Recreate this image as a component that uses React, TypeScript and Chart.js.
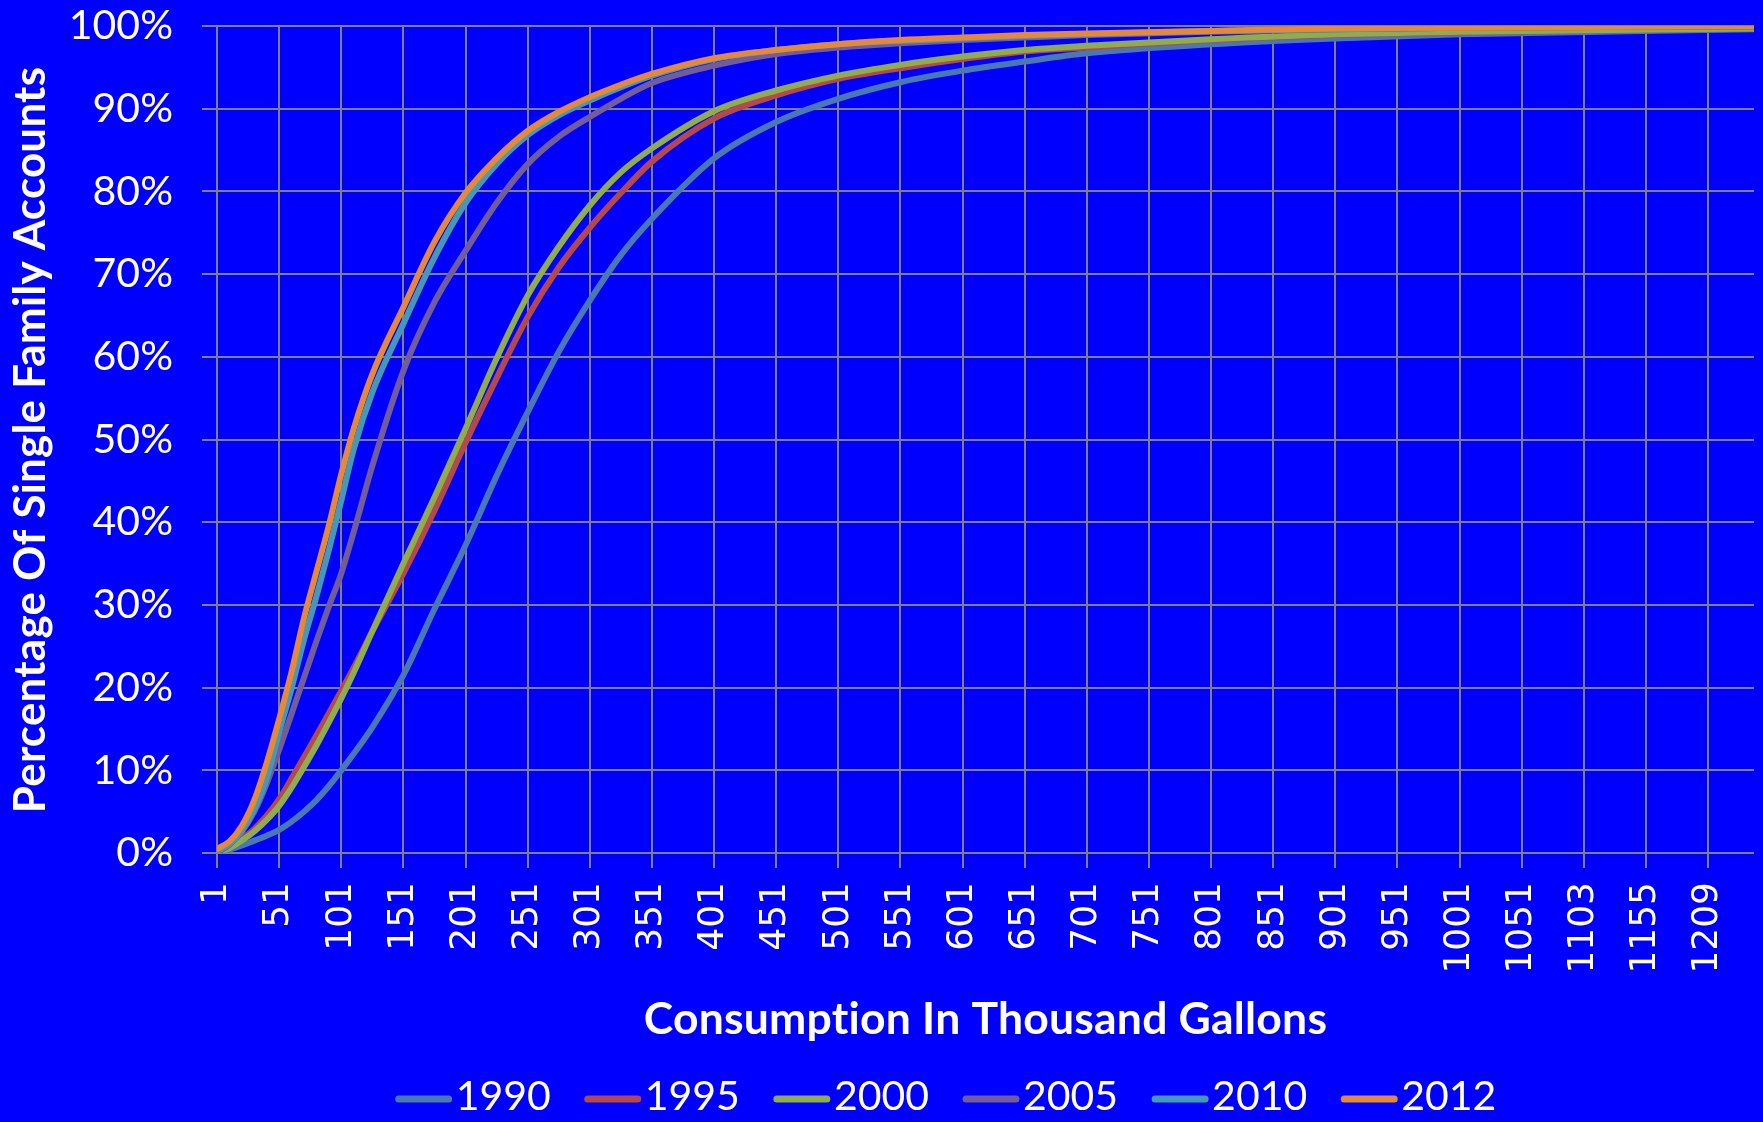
import { useEffect, useRef } from "react";
import { Chart, registerables } from "chart.js";

Chart.register(...registerables);

// Category positions (0-based index along the category axis) at which values were read
const categoryPositions = [0, 10, 20, 30, 40, 50, 60, 70, 80, 90, 100, 110, 125, 150, 175, 200, 225, 250, 275, 300, 325, 350, 400, 450, 500, 550, 600, 650, 700, 800, 900, 1000, 1237];

// Category axis labels (one every 50 categories)
const tickLabels = ["1", "51", "101", "151", "201", "251", "301", "351", "401", "451", "501", "551", "601", "651", "701", "751", "801", "851", "901", "951", "1001", "1051", "1103", "1155", "1209"];
const TICK_EVERY = 50;
const X_MAX = 1237;

const seriesNames = ["1990", "1995", "2000", "2005", "2010", "2012"];
const seriesColors = ["#4A78B3", "#B5484A", "#8FAD4C", "#735C9A", "#4499B8", "#E4883A"];

const v1990 = [0, 0.4, 0.9, 1.5, 2.1, 2.8, 3.8, 5.0, 6.4, 8.1, 10.0, 12.0, 15.2, 21.5, 29.5, 37.2, 45.6, 53.3, 60.6, 66.8, 72.3, 76.7, 84.0, 88.4, 91.2, 93.2, 94.6, 95.7, 96.7, 97.8, 98.5, 99.0, 99.6];
const v1995 = [0, 0.7, 1.7, 2.9, 4.5, 6.5, 9.0, 11.6, 14.2, 16.9, 19.6, 22.4, 26.8, 33.8, 41.4, 49.6, 57.4, 64.8, 70.8, 75.6, 79.8, 83.6, 88.8, 91.6, 93.6, 94.9, 96.0, 96.9, 97.4, 98.3, 98.9, 99.2, 99.7];
const v2000 = [0, 0.6, 1.5, 2.6, 4.0, 5.7, 7.9, 10.4, 13.0, 15.8, 18.7, 21.8, 26.8, 35.0, 43.0, 51.3, 59.8, 67.4, 73.3, 78.3, 82.3, 85.2, 89.7, 92.2, 94.0, 95.3, 96.3, 97.1, 97.6, 98.4, 99.0, 99.3, 99.7];
const v2005 = [0, 1.0, 2.6, 5.0, 8.4, 12.5, 16.8, 21.2, 25.6, 29.8, 33.8, 38.8, 46.8, 58.3, 66.6, 72.8, 78.6, 83.3, 86.6, 89.0, 91.2, 93.1, 95.2, 96.6, 97.4, 97.9, 98.3, 98.6, 98.9, 99.3, 99.6, 99.8, 99.95];
const v2010 = [0.2, 1.1, 2.7, 5.3, 9.0, 14.6, 19.9, 25.8, 31.0, 36.6, 42.6, 48.8, 55.7, 64.0, 72.0, 78.6, 83.3, 86.8, 89.2, 91.0, 92.6, 94.0, 96.0, 97.1, 97.8, 98.2, 98.5, 98.8, 99.0, 99.4, 99.6, 99.8, 100];
const v2012 = [0.5, 1.4, 3.3, 6.4, 10.9, 16.2, 21.9, 28.4, 34.0, 39.6, 45.8, 51.3, 57.9, 66.0, 73.9, 79.8, 84.0, 87.3, 89.6, 91.4, 92.9, 94.2, 96.1, 97.1, 97.8, 98.3, 98.6, 98.9, 99.1, 99.4, 99.7, 99.8, 100];

const seriesValues = [v1990, v1995, v2000, v2005, v2010, v2012];

const X_TITLE = "Consumption In Thousand Gallons";
const Y_TITLE = "Percentage Of Single Family Accounts";

const BG = "#0000FF";
const GRID = "#808080";
const TEXT_FONT = "Lato";

const decorPlugin = {
  id: "decor",
  beforeDraw(chart: any) {
    const { ctx, width, height } = chart;
    ctx.save();
    ctx.fillStyle = BG;
    ctx.fillRect(0, 0, width, height);
    ctx.restore();
  },
  afterDraw(chart: any) {
    const { ctx, chartArea } = chart;
    ctx.save();
    ctx.fillStyle = "#FFFFFF";
    ctx.textAlign = "center";
    ctx.textBaseline = "middle";
    try {
      (ctx as any).letterSpacing = "0.2px";
    } catch (e) {}
    ctx.font = `bold 44.5px ${TEXT_FONT}`;
    ctx.fillText(X_TITLE, (chartArea.left + chartArea.right) / 2, 1020);

    ctx.save();
    ctx.font = `bold 44px ${TEXT_FONT}`;
    ctx.translate(31, 440);
    ctx.rotate(-Math.PI / 2);
    ctx.fillText(Y_TITLE, 0, 0);
    ctx.restore();

    try {
      (ctx as any).letterSpacing = "0px";
    } catch (e) {}

    // legend
    ctx.font = `41px ${TEXT_FONT}`;
    const sample = 56;
    const gapText = 4;
    const gapItem = 34;
    const widths = seriesNames.map((n) => sample + gapText + ctx.measureText(n).width);
    const total = widths.reduce((a, b) => a + b, 0) + gapItem * (widths.length - 1);
    let x = 946 - total / 2;
    const y = 1097;
    ctx.textAlign = "left";
    seriesNames.forEach((n, i) => {
      ctx.strokeStyle = seriesColors[i];
      ctx.lineWidth = 7;
      ctx.lineCap = "round";
      ctx.beginPath();
      ctx.moveTo(x + 3, y + 2);
      ctx.lineTo(x + sample - 3, y + 2);
      ctx.stroke();
      ctx.fillStyle = "#FFFFFF";
      ctx.fillText(n, x + sample + gapText, y);
      x += widths[i] + gapItem;
    });
    ctx.restore();
  },
};

export default function App() {
  const ref = useRef<HTMLCanvasElement | null>(null);

  useEffect(() => {
    document.body.style.margin = "0";
    document.body.style.background = BG;
    const canvas = ref.current;
    if (!canvas) return;

    const chart = new Chart(canvas, {
      type: "line",
      data: {
        datasets: seriesNames.map((name, i) => ({
          label: name,
          data: categoryPositions.map((p, j) => ({ x: p, y: seriesValues[i][j] })),
          borderColor: seriesColors[i],
          backgroundColor: seriesColors[i],
          borderWidth: 6,
          borderCapStyle: "round",
          borderJoinStyle: "round",
          pointRadius: 0,
          cubicInterpolationMode: "monotone",
          fill: false,
          order: seriesNames.length - i,
        })),
      },
      options: {
        responsive: false,
        animation: false,
        devicePixelRatio: 1,
        events: [],
        layout: { padding: { left: 0, right: 9, top: 26, bottom: 0 } },
        plugins: {
          legend: { display: false },
          tooltip: { enabled: false },
          title: { display: false },
        },
        scales: {
          x: {
            type: "linear",
            min: 0,
            max: X_MAX,
            afterBuildTicks: (scale: any) => {
              scale.ticks = tickLabels.map((_, i) => ({ value: i * TICK_EVERY }));
            },
            afterFit: (scale: any) => {
              scale.height = 269;
              scale.paddingLeft = 0;
              scale.paddingRight = 0;
            },
            ticks: {
              autoSkip: false,
              minRotation: 90,
              maxRotation: 90,
              padding: 14,
              color: "#FFFFFF",
              font: { family: "DejaVu Sans", size: 36 },
              callback: (_v: any, i: number) => tickLabels[i],
            },
            grid: { color: GRID, lineWidth: 2, tickLength: 15, drawTicks: true },
            border: { display: false },
          },
          y: {
            min: 0,
            max: 100,
            afterFit: (scale: any) => {
              scale.width = 217;
              scale.paddingTop = 0;
              scale.paddingBottom = 0;
            },
            ticks: {
              stepSize: 10,
              padding: 29,
              color: "#FFFFFF",
              font: { family: TEXT_FONT, size: 41 },
              callback: (v: any) => `${v}%`,
            },
            grid: { color: GRID, lineWidth: 2, tickLength: 15, drawTicks: true },
            border: { display: false },
          },
        },
      },
      plugins: [decorPlugin],
    });

    return () => chart.destroy();
  }, []);

  return (
    <div style={{ width: 1763, height: 1122, background: BG }}>
      <canvas ref={ref} width={1763} height={1122} style={{ display: "block", width: 1763, height: 1122 }} />
    </div>
  );
}
